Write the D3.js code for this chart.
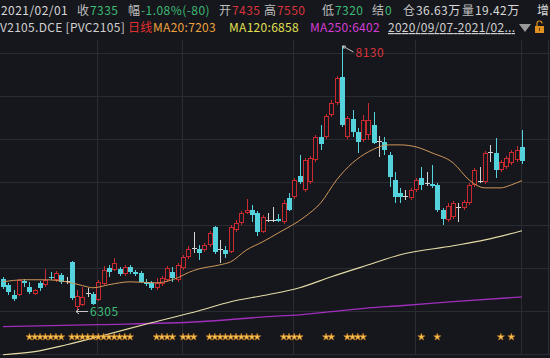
<!DOCTYPE html>
<html>
<head>
<meta charset="utf-8">
<script src="https://cdn.jsdelivr.net/npm/d3@7"></script>
<style>
  body { margin: 0; background: #16171c; }
  svg { display: block; font-family: "Noto Sans CJK SC", "Noto Sans", sans-serif; }
</style>
</head>
<body>
<div id="chart"></div>
<script>
// PVC2105 daily candles, 2020/09/07 - 2021/02/01 (one entry per trading day)
let opens = [6527,6486,6417,6417,6513,6472,6424,6499,6486,6541,6520,6555,6513,6644,6334,6348,6431,6424,6382,6493,
  6603,6589,6596,6561,6610,6575,6568,6506,6499,6465,6493,6520,6575,6520,6603,6678,6740,6733,6726,6761,
  6885,6733,6726,6713,6864,6912,6981,7002,6981,6850,6933,6933,6940,6919,7084,7091,7236,7139,7194,7346,
  7504,7504,7655,7738,7917,7504,7628,7538,7483,7518,7586,7476,7470,7380,7208,7119,7098,7084,7139,7222,
  7187,7181,7174,7002,6933,6954,7022,7016,7050,7174,7201,7194,7401,7394,7277,7298,7325,7346,7435];
let highs = [6541,6499,6451,6527,6527,6506,6458,6513,6596,6575,6582,6568,6541,6651,6451,6472,6465,6438,6520,6616,
  6623,6671,6610,6623,6623,6589,6582,6527,6513,6534,6548,6616,6610,6637,6692,6754,6850,6761,6775,6857,
  6892,6795,6754,6898,6933,6995,7077,7036,6995,6967,6981,7022,6974,7070,7119,7222,7380,7359,7373,7518,
  7586,7662,7758,7924,8130,7648,7690,7566,7655,7738,7676,7511,7504,7401,7263,7153,7139,7153,7222,7298,
  7263,7311,7187,7016,7050,7064,7050,7070,7187,7291,7298,7408,7449,7497,7346,7373,7414,7442,7550];
let lows = [6458,6417,6376,6410,6472,6424,6417,6445,6472,6520,6506,6493,6493,6382,6305,6341,6403,6348,6376,6486,
  6541,6582,6548,6548,6561,6548,6499,6479,6451,6451,6479,6506,6506,6506,6589,6665,6706,6658,6713,6747,
  6699,6637,6671,6706,6850,6898,6974,6919,6823,6843,6919,6919,6919,6905,6995,7077,7181,7126,7181,7332,
  7414,7490,7642,7724,7573,7490,7504,7394,7470,7483,7456,7366,7380,7160,7050,7050,7070,7070,7126,7139,
  7167,7153,6988,6898,6919,6940,6919,7002,7036,7160,7187,7181,7332,7222,7263,7284,7311,7332,7320];
let closes = [6472,6438,6389,6520,6499,6438,6451,6465,6520,6534,6568,6506,6513,6396,6410,6403,6431,6355,6506,6589,
  6575,6637,6561,6610,6575,6561,6506,6493,6465,6499,6534,6603,6534,6623,6678,6733,6740,6706,6761,6843,
  6713,6733,6699,6885,6912,6981,7002,6967,6850,6954,6933,6933,6926,7050,7002,7208,7194,7346,7359,7504,
  7456,7648,7738,7910,7586,7635,7538,7470,7621,7621,7463,7476,7414,7229,7091,7091,7098,7139,7208,7174,
  7187,7167,7002,6940,7029,7050,7022,7057,7174,7277,7201,7394,7401,7277,7332,7359,7401,7415,7335];

// first trading day of Oct, Nov, Dec, Jan, Feb
let monthStarts = [18, 34, 55, 78, 98];

// moving averages: [day index, value]
let ma20 = [[0,6506],[4,6520],[8,6520],[12,6506],[15,6480],[17,6465],[20,6486],[24,6506],[29,6499],[31,6510],
  [33,6534],[35,6570],[37,6595],[41,6623],[43,6644],[46,6726],[49,6781],[52,6843],[57,6954],[60,7050],
  [63,7208],[66,7325],[69,7401],[73,7449],[75,7449],[78,7435],[81,7394],[85,7325],[88,7208],[91,7153],
  [94,7153],[96,7174],[98,7203]];
let ma120 = [[0,6004],[6,6025],[12,6073],[18,6128],[28,6224],[37,6307],[43,6369],[50,6417],[56,6465],
  [62,6541],[69,6623],[75,6692],[85,6754],[91,6795],[98,6858]];
let ma250 = [[0,6197],[18,6211],[37,6231],[50,6266],[56,6279],[62,6300],[69,6327],[75,6341],[85,6369],[98,6402]];

// signal stars under the candles
let starDays = [5,6,7,8,9,10,11, 13,14,15,16,17,18,19,20,21,22,23,24, 29,30,31,32, 34,35,36,
  39,40,41,42,43,44,45,46,47,48, 53,54,55,56, 61,62, 65,66,67,68, 79, 82, 94, 96];

let symbol = "V2105.DCE [PVC2105]";
let period = "日线";
let dateLabel = "2021/02/01";
let rangeLabel = "2020/09/07-2021/02...";
let settle = 0;
let openInterest = "36.63万";
let volume = "19.42万";

const W = 550, H = 358;
const bg = "#16171c", gridC = "#2b2c32";
const red = "#d8343a", green = "#3dba76", cyan = "#55d3dd", white = "#d4d4d4";
const candleRed = "#c92a2f";

const svg = d3.select("#chart").append("svg").attr("width", W).attr("height", H);
svg.append("rect").attr("width", W).attr("height", H).attr("fill", bg);

let n = opens.length;
let x = d3.scaleBand().domain(d3.range(n)).range([1, 524]).paddingInner(0.25);
let col = i => Math.round(x(i) + x.bandwidth() / 2);
let y = d3.scaleLinear().domain([d3.min(lows), d3.max(highs)]).range([311, 46]);

// grid
let rowY = d3.scaleLinear().domain([0, 8]).range([10, 354]);
svg.append("g").selectAll("line").data(d3.range(1, 9)).join("line")
  .attr("x1", 0).attr("x2", W)
  .attr("y1", d => Math.round(rowY(d)) + 0.5).attr("y2", d => Math.round(rowY(d)) + 0.5)
  .attr("stroke", gridC);
svg.append("g").selectAll("line").data(monthStarts).join("line")
  .attr("x1", d => col(d) - 0.5).attr("x2", d => col(d) - 0.5)
  .attr("y1", 40).attr("y2", 355)
  .attr("stroke", gridC);
svg.append("line").attr("x1", 548.5).attr("x2", 548.5).attr("y1", 40).attr("y2", 355).attr("stroke", gridC);

// MA lines
let maLine = d3.line().x(d => x(d[0]) + x.bandwidth() / 2).y(d => y(d[1])).curve(d3.curveMonotoneX);
svg.append("path").attr("d", maLine(ma250)).attr("fill", "none").attr("stroke", "#a02ebc").attr("stroke-width", 1.3);
svg.append("path").attr("d", maLine(ma120)).attr("fill", "none").attr("stroke", "#e4dba6").attr("stroke-width", 1.1);

// candles
let candles = svg.append("g").selectAll("g").data(d3.range(n)).join("g");
candles.each(function (i) {
  let g = d3.select(this);
  let o = opens[i], c = closes[i];
  let up = c > o, flat = c === o;
  let color = flat ? white : up ? candleRed : cyan;
  let cx = col(i);
  g.append("line")
    .attr("x1", cx + 0.5).attr("x2", cx + 0.5)
    .attr("y1", Math.round(y(highs[i]))).attr("y2", Math.round(y(lows[i])))
    .attr("stroke", color);
  let top = Math.round(y(Math.max(o, c))), bot = Math.round(y(Math.min(o, c)));
  if (flat) {
    g.append("line").attr("x1", cx - 2).attr("x2", cx + 3)
      .attr("y1", top + 0.5).attr("y2", top + 0.5).attr("stroke", color);
  } else if (up) {
    g.append("rect").attr("x", cx - 1.5).attr("y", top + 0.5)
      .attr("width", 4).attr("height", Math.max(bot - top - 1, 1))
      .attr("fill", bg).attr("stroke", color);
  } else {
    g.append("rect").attr("x", cx - 2).attr("y", top)
      .attr("width", 5).attr("height", Math.max(bot - top, 1))
      .attr("fill", color);
  }
});

svg.append("path").attr("d", maLine(ma20)).attr("fill", "none").attr("stroke", "#cf975a").attr("stroke-width", 1);

// stars
svg.append("g").selectAll("path").data(starDays).join("path")
  .attr("d", d3.symbol(d3.symbolStar).size(16))
  .attr("transform", d => `translate(${x(d) + x.bandwidth() / 2},337)`)
  .attr("fill", "#f6c655").attr("stroke", "#c77a22").attr("stroke-width", 0.6);

// high / low markers
let hiIdx = d3.maxIndex(highs), loIdx = d3.minIndex(lows);
let hx = col(hiIdx) + 0.5, hy = y(highs[hiIdx]);
svg.append("path")
  .attr("d", `M${hx + 11},${hy + 6}L${hx},${hy}M${hx},${hy}l3.5,0.2M${hx},${hy}l1.8,3`)
  .attr("stroke", "#c8c8c8").attr("fill", "none");
svg.append("text").attr("x", hx + 13).attr("y", hy + 11)
  .attr("font-size", 12).attr("letter-spacing", 0.5).attr("fill", red).text(highs[hiIdx]);
let lx = col(loIdx) - 1, ly = Math.round(y(lows[loIdx])) + 0.5;
svg.append("path")
  .attr("d", `M${lx + 12},${ly}L${lx},${ly}M${lx},${ly}l3,-2.5M${lx},${ly}l3,2.5`)
  .attr("stroke", "#c8c8c8").attr("fill", "none");
svg.append("text").attr("x", lx + 14).attr("y", ly + 4.5)
  .attr("font-size", 12).attr("letter-spacing", 0.5).attr("fill", green).text(lows[loIdx]);

// header
let last = n - 1;
let chg = closes[last] - closes[last - 1];
let pct = chg / closes[last - 1] * 100;
let pc = v => v > 0 ? red : v < 0 ? green : white;
let row1 = [
  [dateLabel, 1, "#d8d8d8"],
  ["收", 77, "#bdbdbd"], [closes[last], 90, pc(chg)],
  ["幅", 128, "#bdbdbd"], [`${pct.toFixed(2)}%(${chg})`, 141, pc(chg)],
  ["开", 219, "#bdbdbd"], [opens[last], 232, pc(opens[last] - closes[last - 1])],
  ["高", 264, "#bdbdbd"], [highs[last], 277, pc(highs[last] - closes[last - 1])],
  ["低", 322, "#bdbdbd"], [lows[last], 335, pc(lows[last] - closes[last - 1])],
  ["结", 372, "#bdbdbd"], [settle, 385, green],
  ["仓", 403, "#bdbdbd"], [openInterest, 416, "#d8d8d8"],
  ["量", 462, "#bdbdbd"], [volume, 475, "#d8d8d8"],
  ["增", 537, "#d8d8d8"]
];
svg.append("g").selectAll("text").data(row1).join("text")
  .attr("x", d => d[1]).attr("y", 15)
  .attr("font-size", 12).attr("letter-spacing", 0.45)
  .attr("fill", d => d[2]).text(d => d[0]);

let row2 = [
  [symbol, 0, "#d0d0d0"],
  [period, 128, "#e0302e"],
  [`MA20:${ma20[ma20.length - 1][1]}`, 153, "#eda23e"],
  [`MA120:${ma120[ma120.length - 1][1]}`, 229, "#e2e052"],
  [`MA250:${ma250[ma250.length - 1][1]}`, 310, "#d43ed6"]
];
svg.append("g").selectAll("text").data(row2).join("text")
  .attr("x", d => d[1]).attr("y", 32)
  .attr("font-size", 12).attr("letter-spacing", 0.3)
  .attr("fill", d => d[2]).text(d => d[0]);

svg.append("text").attr("x", 388).attr("y", 32).attr("font-size", 12)
  .attr("textLength", 127).attr("lengthAdjust", "spacing")
  .attr("fill", "#d0d0d0").attr("text-decoration", "underline").text(rangeLabel);
svg.append("path").attr("d", "M519,24L531,24L525,32Z").attr("fill", "#9a9a9a");
svg.append("rect").attr("x", 535).attr("y", 26).attr("width", 9).attr("height", 7).attr("fill", "#e0901e");
svg.append("path").attr("d", "M537,26v-2.5a2.5,2.5 0 0 1 5,0").attr("stroke", "#e0901e").attr("fill", "none").attr("stroke-width", 1.2);
svg.append("rect").attr("x", 539).attr("y", 28).attr("width", 1).attr("height", 3).attr("fill", "#5a3a10");
</script>
</body>
</html>
